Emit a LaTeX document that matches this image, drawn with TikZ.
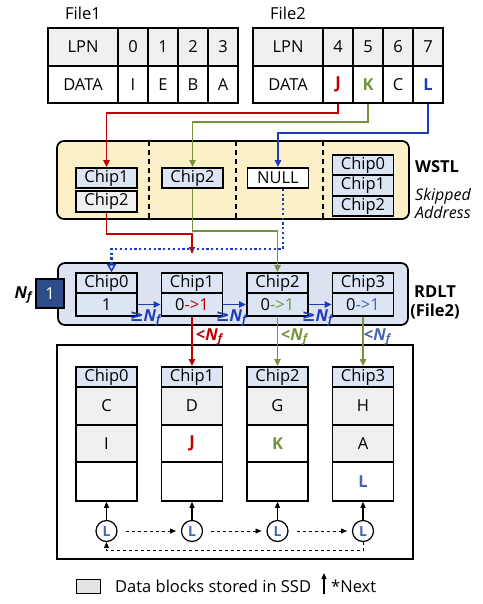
\documentclass[tikz,border=0pt]{standalone}
\usepackage{fontspec}
\setmainfont{Open Sans}
\newfontfamily\symf{DejaVu Sans}
\usetikzlibrary{arrows.meta}
\definecolor{myred}{HTML}{C00000}
\definecolor{mygreen}{HTML}{76923C}
\definecolor{myblue}{HTML}{1F3CB8}
\definecolor{slate}{HTML}{4565AD}
\definecolor{chipblue}{HTML}{DCE5F3}
\definecolor{hdrgray}{HTML}{F0F0F0}
\definecolor{leggray}{HTML}{E4E4E4}
\definecolor{wstlfill}{HTML}{FBF0C8}
\definecolor{rdltfill}{HTML}{DDE2F0}
\definecolor{nfblue}{HTML}{2E4B8A}
\newcommand{\Nf}{\textbf{\textit{N}}\textsubscript{\textbf{\textit{f}}}}
\tikzset{
  cell/.style={draw, line width=1.9pt, inner sep=0pt, minimum width=30pt, minimum height=38pt},
  chipbox/.style={draw, line width=1.6pt, inner sep=0pt, minimum width=61pt, minimum height=20pt, fill=chipblue},
  rowbox/.style={draw, line width=1.6pt, inner sep=0pt, minimum width=61pt, minimum height=38pt},
  tip/.style={-{Triangle[length=7pt,width=6pt]}},
  conn/.style={line width=1.7pt, tip},
  lbl/.style={inner sep=0pt},
  bigb/.style={font=\bfseries\fontsize{16.5}{19}\selectfont},
  circ/.style={circle, draw, line width=1.2pt, minimum size=21pt, inner sep=0pt, text=slate, font=\bfseries\fontsize{14}{14}\selectfont},
  smalltip/.style={-{Triangle[length=6pt,width=5pt]}},
}
\begin{document}
\begin{tikzpicture}[x=1pt,y=-1pt,font=\fontsize{16.5}{19}\selectfont]
\useasboundingbox (0,0) rectangle (482,604);
% File labels
\node[lbl] (t1) at (83,13) {File1};
\node[lbl] (t2) at (288,13) {File2};
% File1 table
\node[cell,fill=hdrgray,minimum width=70pt] (f1l) at (83,47) {LPN};
\node[cell,fill=hdrgray] (f1c0) at (133,47) {0};
\node[cell,fill=hdrgray] (f1c1) at (163,47) {1};
\node[cell,fill=hdrgray] (f1c2) at (193,47) {2};
\node[cell,fill=hdrgray] (f1c3) at (223,47) {3};
\node[cell,minimum width=70pt,minimum height=37pt] (f1d) at (83,84.5) {DATA};
\node[cell,minimum height=37pt] (f1d0) at (133,84.5) {I};
\node[cell,minimum height=37pt] (f1d1) at (163,84.5) {E};
\node[cell,minimum height=37pt] (f1d2) at (193,84.5) {B};
\node[cell,minimum height=37pt] (f1d3) at (223,84.5) {A};
% File2 table
\node[cell,fill=hdrgray,minimum width=70pt] (f2l) at (288,47) {LPN};
\node[cell,fill=hdrgray] (f2c4) at (338,47) {4};
\node[cell,fill=hdrgray] (f2c5) at (368,47) {5};
\node[cell,fill=hdrgray] (f2c6) at (398,47) {6};
\node[cell,fill=hdrgray] (f2c7) at (428,47) {7};
\node[cell,minimum width=70pt,minimum height=37pt] (f2d) at (288,84.5) {DATA};
\node[cell,minimum height=37pt,text=myred,bigb] (f2d4) at (338,84.5) {J};
\node[cell,minimum height=37pt,text=mygreen,bigb] (f2d5) at (368,84.5) {K};
\node[cell,minimum height=37pt] (f2d6) at (398,84.5) {C};
\node[cell,minimum height=37pt,text=myblue,bigb] (f2d7) at (428,84.5) {L};
% WSTL
\draw[line width=1.7pt, fill=wstlfill, rounded corners=7pt] (57,141) rectangle (409,219);
\foreach \x in {149,236,323} \draw[line width=1.5pt, dash pattern=on 5pt off 4pt] (\x,141) -- (\x,219);
\node[chipbox] (w1a) at (106.5,178) {Chip1};
\node[chipbox,fill=hdrgray,minimum height=21pt] (w1b) at (106.5,201.5) {Chip2};
\node[chipbox] (w2) at (192.5,178) {Chip2};
\node[chipbox,fill=white] (wnull) at (278,178) {NULL};
\node[chipbox] (w4a) at (363,165) {Chip0};
\node[chipbox] (w4b) at (363,185.5) {Chip1};
\node[chipbox] (w4c) at (363,206) {Chip2};
\node[lbl,bigb] (wl) at (437,167) {WSTL};
\node[lbl,font=\itshape\fontsize{16}{18}\selectfont,align=left] (wsk) at (443,203) {Skipped\\Address};
% RDLT
\draw[line width=1.7pt, fill=rdltfill, rounded corners=7pt] (58,263) rectangle (408,325);
\node[draw,line width=1.5pt,fill=nfblue,text=white,minimum width=28pt,minimum height=29pt,inner sep=0pt] (nf) at (50,293.5) {1};
\node[lbl] (nfl) at (24,295) {\Nf};
\node[chipbox] (r0) at (106.5,283) {Chip0};
\node[chipbox,minimum height=23pt] (r0v) at (106.5,304.5) {1};
\node[chipbox] (r1) at (192,283) {Chip1};
\node[chipbox,minimum height=23pt] (r1v) at (192,304.5) {0{\color{myred}->1}};
\node[chipbox] (r2) at (277.5,283) {Chip2};
\node[chipbox,minimum height=23pt] (r2v) at (277.5,304.5) {0{\color{mygreen}->1}};
\node[chipbox] (r3) at (363,283) {Chip3};
\node[chipbox,minimum height=23pt] (r3v) at (363,304.5) {0{\color{slate}->1}};
\node[lbl,bigb] (rl1) at (435,292) {RDLT};
\node[lbl,bigb] (rl2) at (435,312) {(File2)};
\draw[conn,myblue] (r0v.east) -- (r1v.west);
\draw[conn,myblue] (r1v.east) -- (r2v.west);
\draw[conn,myblue] (r2v.east) -- (r3v.west);
\node[lbl,text=myblue] (g1) at (146,318) {{\symf\bfseries ≥}\Nf};
\node[lbl,text=myblue] (g2) at (232,318) {{\symf\bfseries ≥}\Nf};
\node[lbl,text=myblue] (g3) at (318,318) {{\symf\bfseries ≥}\Nf};
% Storage
\draw[line width=1.9pt] (57,345) rectangle (413,559);
\node[chipbox] (s0h) at (106.5,377) {Chip0};
\node[rowbox,fill=hdrgray] (s0a) at (106.5,406) {C};
\node[rowbox,fill=hdrgray,minimum height=37pt] (s0b) at (106.5,443.5) {I};
\node[rowbox,fill=white,minimum height=39pt] (s0c) at (106.5,481.5) {};
\node[chipbox] (s1h) at (192,377) {Chip1};
\node[rowbox,fill=hdrgray] (s1a) at (192,406) {D};
\node[rowbox,fill=white,minimum height=37pt,text=myred,bigb] (s1b) at (192,443.5) {J};
\node[rowbox,fill=white,minimum height=39pt] (s1c) at (192,481.5) {};
\node[chipbox] (s2h) at (277.5,377) {Chip2};
\node[rowbox,fill=hdrgray] (s2a) at (277.5,406) {G};
\node[rowbox,fill=white,minimum height=37pt,text=mygreen,bigb] (s2b) at (277.5,443.5) {K};
\node[rowbox,fill=white,minimum height=39pt] (s2c) at (277.5,481.5) {};
\node[chipbox] (s3h) at (363,377) {Chip3};
\node[rowbox,fill=hdrgray] (s3a) at (363,406) {H};
\node[rowbox,fill=hdrgray,minimum height=37pt] (s3b) at (363,443.5) {A};
\node[rowbox,fill=white,minimum height=39pt,text=slate,bigb] (s3c) at (363,481.5) {L};
% circles
\node[circ] (c0) at (106.5,531) {L};
\node[circ] (c1) at (192,531) {L};
\node[circ] (c2) at (277.5,531) {L};
\node[circ] (c3) at (363,531) {L};
\foreach \i in {0,1,2,3} \draw[line width=1.1pt,smalltip] (c\i.north) -- (s\i c.south);
\draw[line width=0.8pt,dashed,smalltip,shorten <=19pt,shorten >=16pt] (c0.center) -- (c1.center);
\draw[line width=0.8pt,dashed,smalltip,shorten <=19pt,shorten >=16pt] (c1.center) -- (c2.center);
\draw[line width=0.8pt,dashed,smalltip,shorten <=19pt,shorten >=16pt] (c2.center) -- (c3.center);
\draw[line width=0.8pt,dashed,smalltip] (c3.south) -- ++(0,8.5) -| (c0.south);
% connectors top
\draw[conn,myred] (f2d4.south) -- ++(0,9) -| (w1a.north);
\draw[conn,mygreen] (f2d5.south) -- ++(0,18) -| (w2.north);
\draw[conn,myblue] (f2d7.south) -- ++(0,29) -| (wnull.north);
\coordinate (redtip) at (192,254);
\draw[conn,myred] (w1b.south) -- ++(0,21) -| (redtip);
\draw[conn,mygreen] (w2.south) -- ++(0,42) -| (r2.north);
\draw[line width=2.2pt,myblue,dash pattern=on 2.2pt off 2.6pt,-{Triangle[open,length=8pt,width=9pt,line width=1.5pt]}] ([xshift=5pt]wnull.south) -- ++(0,60) -| ([xshift=5pt]r0.north);
% RDLT to storage
\draw[conn,myred] (r1v.south) -- (s1h.north);
\draw[conn,mygreen] (r2v.south) -- (s2h.north);
\draw[conn,mygreen] (r3v.south) -- (s3h.north);
\node[lbl,text=myred] (lt1) at (210,337) {\textbf{<}\Nf};
\node[lbl,text=mygreen] (lt2) at (295,337) {\textbf{<}\Nf};
\node[lbl,text=slate] (lt3) at (378,337) {\textbf{<}\Nf};
% legend
\node[draw,fill=leggray,line width=0.9pt,minimum width=24pt,minimum height=14pt,inner sep=0pt] (lg) at (88,586) {};
\node[anchor=west,inner sep=0pt] (lgt) at (115,586) {Data blocks stored in SSD};
\coordinate (na) at (324,594);
\coordinate (nb) at (324,573);
\draw[line width=1.1pt,smalltip] (na) -- (nb);
\node[anchor=west,inner sep=0pt] (nx) at (331,586) {*Next};
\end{tikzpicture}
\end{document}
